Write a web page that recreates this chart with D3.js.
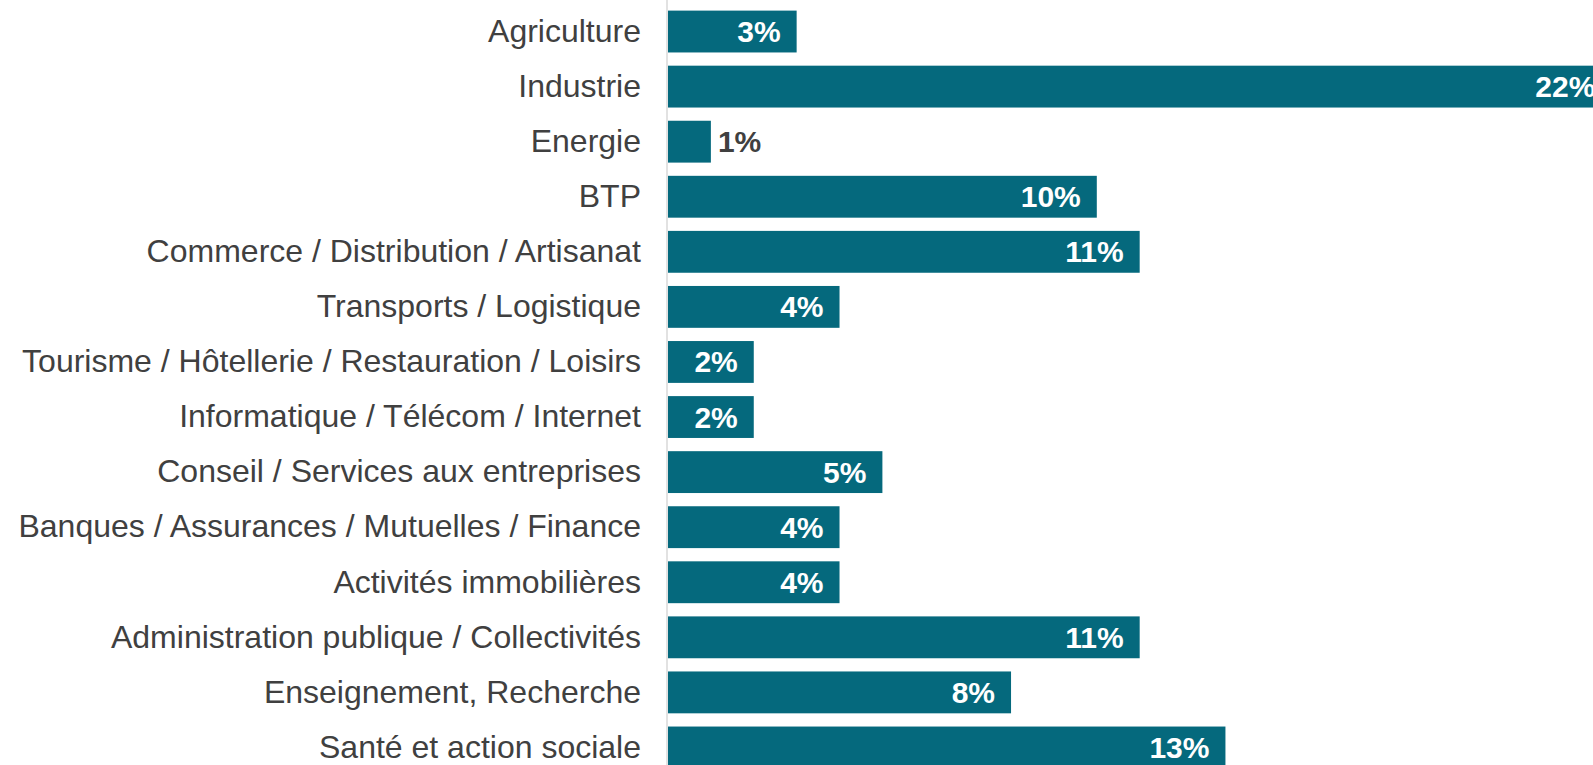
<!DOCTYPE html>
<html>
<head>
<meta charset="utf-8">
<script src="https://cdn.jsdelivr.net/npm/d3@7"></script>
<style>
  html, body { margin: 0; padding: 0; background: #ffffff; }
  svg { display: block; }
</style>
</head>
<body>
<svg id="chart" width="1593" height="765"></svg>
<script>
// Répartition par secteur d'activité
const categories = [
  "Agriculture",
  "Industrie",
  "Energie",
  "BTP",
  "Commerce / Distribution / Artisanat",
  "Transports / Logistique",
  "Tourisme / Hôtellerie / Restauration / Loisirs",
  "Informatique / Télécom / Internet",
  "Conseil / Services aux entreprises",
  "Banques / Assurances / Mutuelles / Finance",
  "Activités immobilières",
  "Administration publique / Collectivités",
  "Enseignement, Recherche",
  "Santé et action sociale"
];
const values = [0.03, 0.22, 0.01, 0.10, 0.11, 0.04, 0.02, 0.02, 0.05, 0.04, 0.04, 0.11, 0.08, 0.13];

const svg = d3.select("#chart");
const axisX = 667;
const barColor = "#05697d";
const textColor = "#404040";

const x = d3.scaleLinear().domain([0, 0.25]).range([axisX + 1, axisX + 1 + 1072]);
const y = d3.scaleBand().domain(categories).range([4, 775]).paddingInner(0.24).paddingOuter(0.12);

// bars
svg.append("g").selectAll("rect")
  .data(values)
  .join("rect")
  .attr("x", x(0))
  .attr("y", (d, i) => y(categories[i]))
  .attr("width", d => x(d) - x(0))
  .attr("height", y.bandwidth())
  .attr("fill", barColor);

// category axis
const yAxis = svg.append("g")
  .attr("transform", `translate(${axisX},0)`)
  .call(d3.axisLeft(y).tickSize(0).tickPadding(26));
yAxis.select(".domain").attr("stroke", "#d9d9d9").attr("stroke-width", 1.5)
  .attr("d", `M0,0V765`);
yAxis.selectAll("text")
  .attr("fill", textColor)
  .style("font-family", "Liberation Sans, Arial, sans-serif")
  .style("font-size", "32px");

// value labels
const fmt = d3.format(".0%");
svg.append("g").selectAll("text")
  .data(values)
  .join("text")
  .each(function (d, i) {
    const inside = x(d) - x(0) > 60;
    d3.select(this)
      .attr("x", inside ? x(d) - 16 : x(d) + 7)
      .attr("y", y(categories[i]) + y.bandwidth() / 2)
      .attr("dy", "0.35em")
      .attr("text-anchor", inside ? "end" : "start")
      .attr("fill", inside ? "#ffffff" : textColor)
      .text(fmt(d));
  })
  .style("font-family", "Liberation Sans, Arial, sans-serif")
  .style("font-size", "30px")
  .style("font-weight", "bold");
</script>
</body>
</html>
